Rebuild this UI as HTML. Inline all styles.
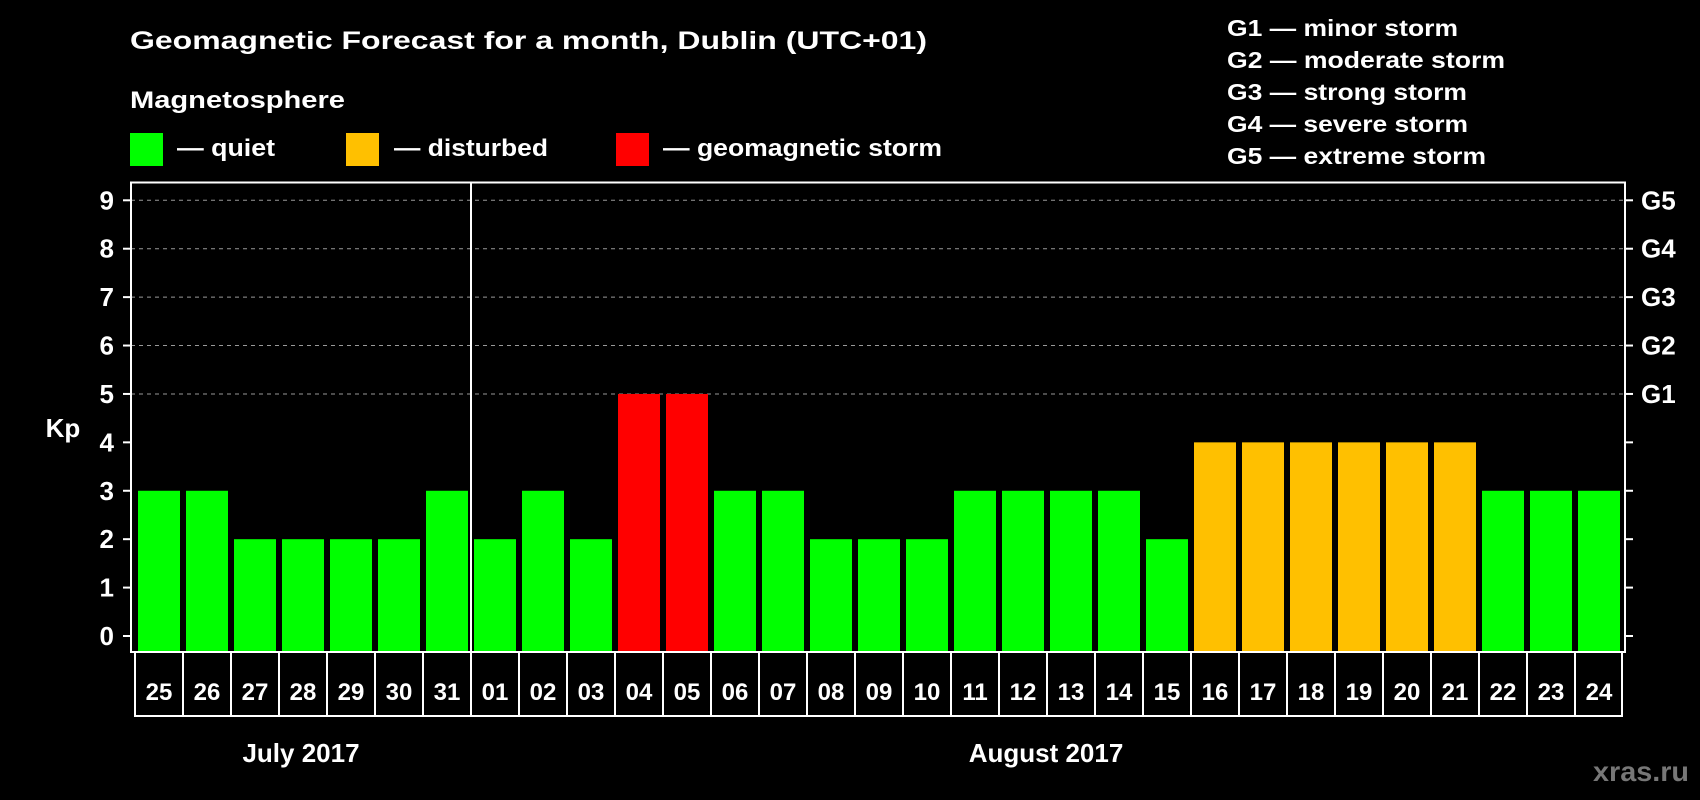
<!DOCTYPE html>
<html><head><meta charset="utf-8"><style>
html,body{margin:0;padding:0;background:#000;}
svg{display:block;font-family:"Liberation Sans",Arial,sans-serif;font-weight:bold;}
</style></head><body>
<svg id="chart" width="1700" height="800" viewBox="0 0 1700 800">
<rect x="0" y="0" width="1700" height="800" fill="#000"/>
<text x="130" y="49" font-size="25" fill="#fff" textLength="797" lengthAdjust="spacingAndGlyphs">Geomagnetic Forecast for a month, Dublin (UTC+01)</text>
<text x="130" y="108" font-size="24" fill="#fff" textLength="215" lengthAdjust="spacingAndGlyphs">Magnetosphere</text>
<g>
<rect x="130" y="133" width="33" height="33" fill="#00ff00"/>
<text x="177" y="156" font-size="24" fill="#fff" textLength="98" lengthAdjust="spacingAndGlyphs">— quiet</text></g>
<g>
<rect x="346" y="133" width="33" height="33" fill="#ffc000"/>
<text x="394" y="156" font-size="24" fill="#fff" textLength="154" lengthAdjust="spacingAndGlyphs">— disturbed</text></g>
<g>
<rect x="616" y="133" width="33" height="33" fill="#ff0000"/>
<text x="663" y="156" font-size="24" fill="#fff" textLength="279" lengthAdjust="spacingAndGlyphs">— geomagnetic storm</text></g>
<g font-size="23" fill="#fff">
<text x="1227" y="36" textLength="231" lengthAdjust="spacingAndGlyphs">G1 — minor storm</text>
<text x="1227" y="68" textLength="278" lengthAdjust="spacingAndGlyphs">G2 — moderate storm</text>
<text x="1227" y="100" textLength="240" lengthAdjust="spacingAndGlyphs">G3 — strong storm</text>
<text x="1227" y="132" textLength="241" lengthAdjust="spacingAndGlyphs">G4 — severe storm</text>
<text x="1227" y="164" textLength="259" lengthAdjust="spacingAndGlyphs">G5 — extreme storm</text>
</g>
<g id="grid"></g><g id="bars"></g><g id="axes"></g>
<text x="63" y="437" font-size="26" fill="#fff" text-anchor="middle">Kp</text>
<text x="301" y="762" font-size="26" fill="#fff" text-anchor="middle">July 2017</text>
<text x="1046" y="762" font-size="26" fill="#fff" text-anchor="middle">August 2017</text>
<text x="1689" y="781" font-size="28" fill="#777" text-anchor="end" textLength="96" lengthAdjust="spacingAndGlyphs">xras.ru</text>
</svg>
<script>
const days = ["25","26","27","28","29","30","31","01","02","03","04","05","06","07","08","09","10","11","12","13","14","15","16","17","18","19","20","21","22","23","24"];
const kpValues = [3,3,2,2,2,2,3,2,3,2,5,5,3,3,2,2,2,3,3,3,3,2,4,4,4,4,4,4,3,3,3];
const yTicks = [0,1,2,3,4,5,6,7,8,9];
const gLabels = ["G1","G2","G3","G4","G5"];
const gLevels = [5,6,7,8,9];

const NS = "http://www.w3.org/2000/svg";
const L = 131, R = 1625, T = 182.5, B = 652;
const y0 = 636, unit = (636 - 200.3) / 9;
const yScale = v => y0 - v * unit;
const barStart = 138, step = 48, barW = 42;
const xScale = i => barStart + i * step;
function mk(tag, attrs, parent){const e=document.createElementNS(NS,tag);for(const k in attrs)e.setAttribute(k,attrs[k]);parent.appendChild(e);return e;}
const grid = document.getElementById('grid'), bars = document.getElementById('bars'), axes = document.getElementById('axes');

yTicks.forEach(v => {
  const y = yScale(v);
  if (v >= 5) {
    const g = mk('line',{x1:L,x2:R,y1:y,y2:y,stroke:'#999','stroke-width':1,'stroke-dasharray':'4,4'},grid);
    
    
  }
  const t1 = mk('line',{x1:L-8,x2:L,y1:y,y2:y,stroke:'#fff','stroke-width':2},axes);
  
  
  const t2 = mk('line',{x1:R,x2:R+8,y1:y,y2:y,stroke:'#fff','stroke-width':2},axes);
  
  
  const lb = mk('text',{x:114,y:y+9,'font-size':26,fill:'#fff','text-anchor':'end'},axes);
  lb.textContent = v;
  
  
});
gLabels.forEach((g,i) => {
  const t = mk('text',{x:1641,y:yScale(gLevels[i])+9,'font-size':26,fill:'#fff'},axes);
  t.textContent = g;
  
  
});
kpValues.forEach((v,i) => {
  const col = v >= 5 ? '#ff0000' : (v === 4 ? '#ffc000' : '#00ff00');
  const r = mk('rect',{x:xScale(i),y:yScale(v),width:barW,height:B-yScale(v),fill:col},bars);
  
  
});
const frame = mk('rect',{x:L,y:T,width:R-L,height:B-T,fill:'none',stroke:'#fff','stroke-width':2},axes);


const div = mk('line',{x1:471,x2:471,y1:T,y2:717,stroke:'#fff','stroke-width':2},axes);


const box = mk('rect',{x:135,y:B,width:1622-135,height:716-B,fill:'none',stroke:'#fff','stroke-width':2},axes);


days.forEach((d,i) => {
  if (i > 0) {
    const s = mk('line',{x1:xScale(i)-3,x2:xScale(i)-3,y1:B,y2:716,stroke:'#fff','stroke-width':2},axes);
    
    
  }
  const t = mk('text',{x:xScale(i)+barW/2,y:700,'font-size':24,fill:'#fff','text-anchor':'middle'},axes);
  t.textContent = d;
  
  
});
</script>
</body></html>
